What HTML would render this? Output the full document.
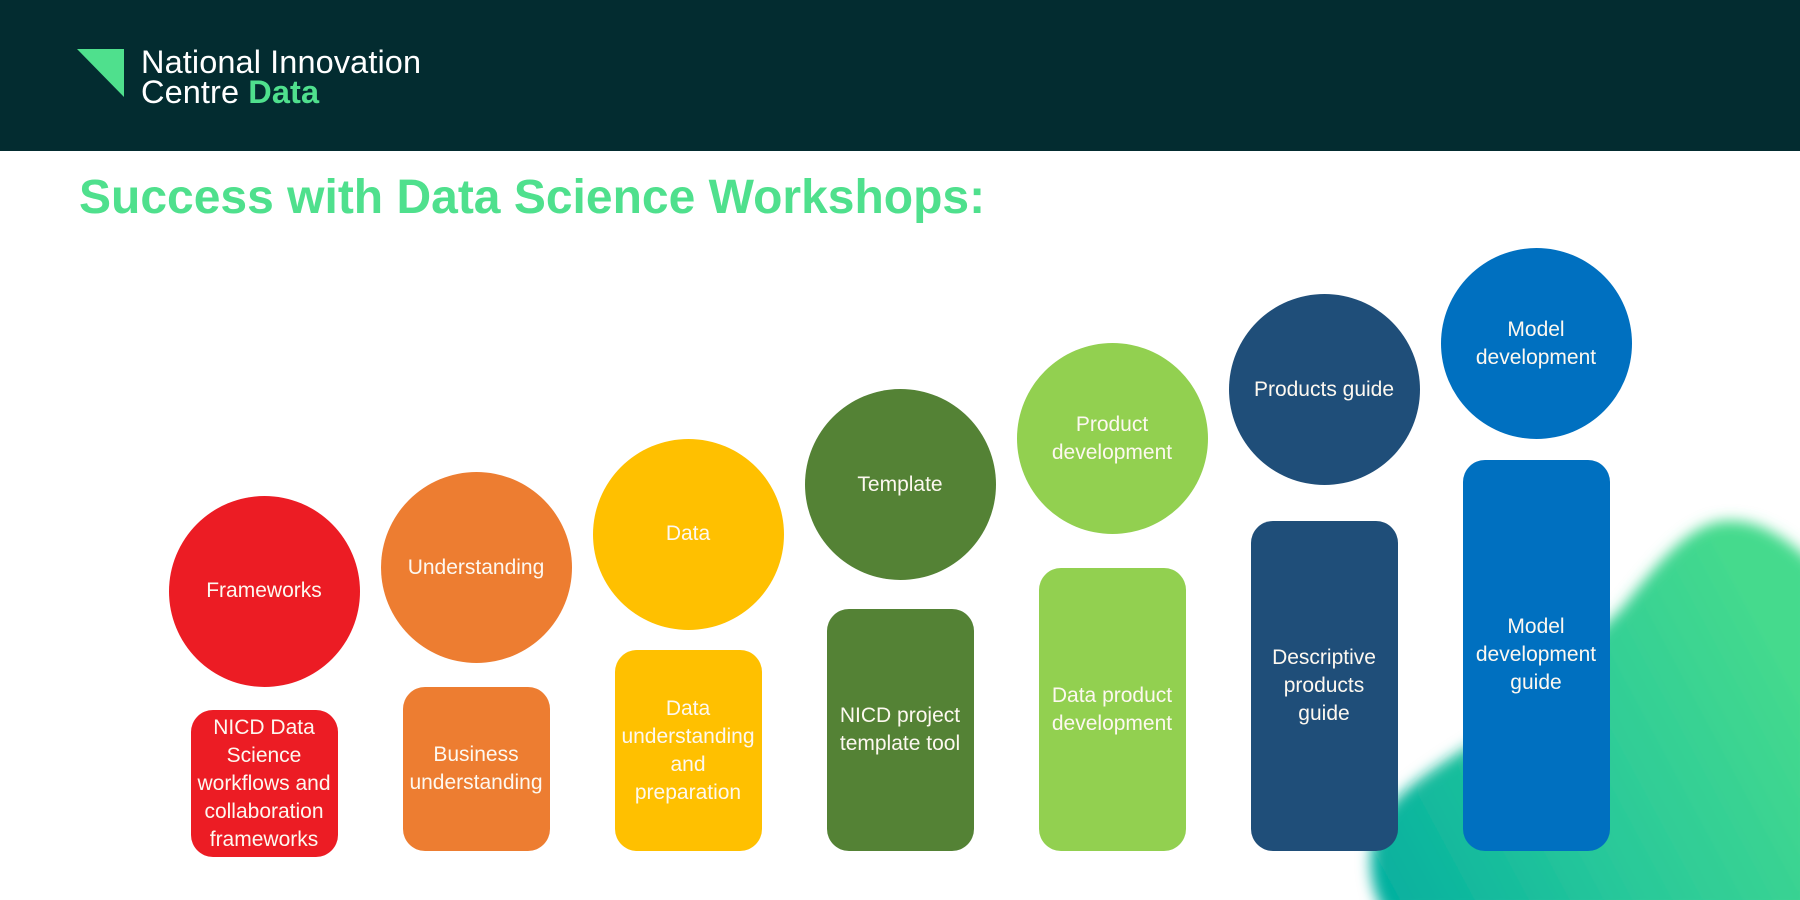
<!DOCTYPE html>
<html>
<head>
<meta charset="utf-8">
<style>
  html, body { margin:0; padding:0; }
  body { width:1800px; height:900px; position:relative; overflow:hidden; background:#ffffff; font-family:"Liberation Sans", sans-serif; }
  .header { position:absolute; left:0; top:0; width:1800px; height:151px; background:#032c30; }
  .logo-text { position:absolute; left:141px; top:46.6px; font-size:32.5px; line-height:30px; color:#ffffff; font-weight:300; white-space:nowrap; letter-spacing:0.1px; }
  .logo-text b { color:#4fe08d; font-weight:700; }
  .title { position:absolute; left:79px; top:174px; font-size:48px; line-height:48px; font-weight:700; color:#4fe08d; letter-spacing:0px; white-space:nowrap; }
  .circle { position:absolute; width:191px; height:191px; border-radius:50%; display:flex; align-items:center; justify-content:center; text-align:center; color:#fdf8f0; font-size:21px; line-height:28px; }
  .rect { position:absolute; width:147px; border-radius:22px; display:flex; align-items:center; justify-content:center; text-align:center; color:#fdf8f0; font-size:21px; line-height:28px; }
  .blob { position:absolute; left:0; top:0; }
</style>
</head>
<body>
  <svg class="blob" width="1800" height="900" viewBox="0 0 1800 900">
    <defs>
      <linearGradient id="g" gradientUnits="userSpaceOnUse" x1="1390" y1="900" x2="1800" y2="680">
        <stop offset="0" stop-color="#05b09f"/>
        <stop offset="0.45" stop-color="#28c89a"/>
        <stop offset="1" stop-color="#45da8d"/>
      </linearGradient>
      <filter id="b" x="-20%" y="-20%" width="140%" height="140%">
        <feGaussianBlur stdDeviation="7"/>
      </filter>
    </defs>
    <path d="M 1386 915 C 1366 885, 1364 838, 1390 806 C 1420 772, 1470 748, 1520 712 L 1622 608 C 1660 560, 1690 524, 1724 521 C 1760 518, 1788 540, 1815 565 L 1815 915 Z" fill="url(#g)" filter="url(#b)"/>
  </svg>

  <div class="header">
    <svg width="200" height="151" style="position:absolute;left:0;top:0">
      <polygon points="77,49 124,49 124,97" fill="#4fe08d"/>
    </svg>
    <div class="logo-text">National Innovation<br>Centre <b>Data</b></div>
  </div>

  <div class="title">Success with Data Science Workshops:</div>

  <!-- circles -->
  <div class="circle" style="left:168.5px; top:495.5px; background:#ec1c24;">Frameworks</div>
  <div class="circle" style="left:380.5px; top:472px; background:#ed7d31;">Understanding</div>
  <div class="circle" style="left:592.5px; top:438.5px; background:#ffc000;">Data</div>
  <div class="circle" style="left:804.5px; top:389px; background:#548235;">Template</div>
  <div class="circle" style="left:1016.5px; top:343px; background:#92d050;">Product<br>development</div>
  <div class="circle" style="left:1228.5px; top:294px; background:#1f4e79;">Products guide</div>
  <div class="circle" style="left:1440.5px; top:248px; background:#0070c0;">Model<br>development</div>

  <!-- rects -->
  <div class="rect" style="left:190.5px; top:710px; height:147px; background:#ec1c24;">NICD Data<br>Science<br>workflows and<br>collaboration<br>frameworks</div>
  <div class="rect" style="left:402.5px; top:687px; height:164px; background:#ed7d31;">Business<br>understanding</div>
  <div class="rect" style="left:614.5px; top:650px; height:201px; background:#ffc000;">Data<br>understanding<br>and<br>preparation</div>
  <div class="rect" style="left:826.5px; top:609px; height:242px; background:#548235;">NICD project<br>template tool</div>
  <div class="rect" style="left:1038.5px; top:568px; height:283px; background:#92d050;">Data product<br>development</div>
  <div class="rect" style="left:1250.5px; top:521px; height:330px; background:#1f4e79;">Descriptive<br>products<br>guide</div>
  <div class="rect" style="left:1462.5px; top:459.5px; height:391.5px; background:#0070c0;">Model<br>development<br>guide</div>
</body>
</html>
